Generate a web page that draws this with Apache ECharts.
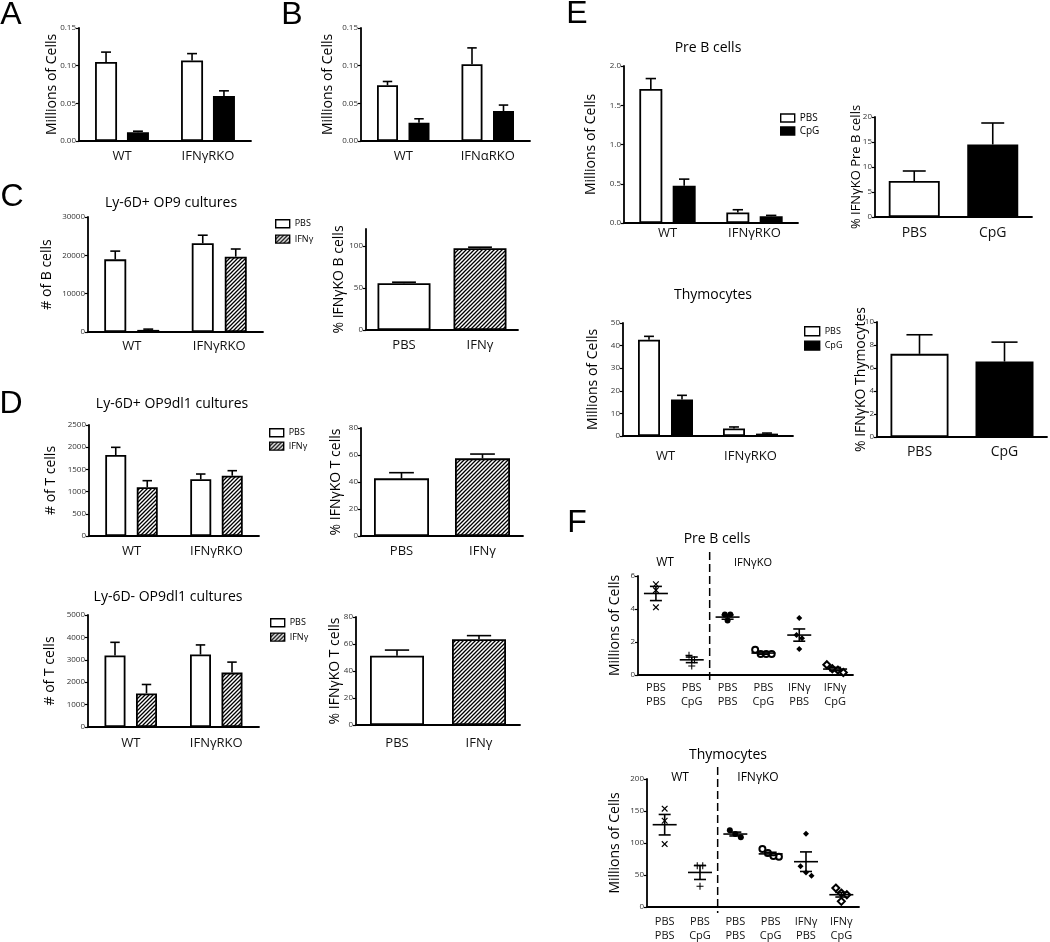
<!DOCTYPE html>
<html><head><meta charset="utf-8">
<script src="https://cdn.jsdelivr.net/npm/echarts@6/dist/echarts.min.js"></script>
<style>html,body{margin:0;padding:0;background:#fff}#c{width:1050px;height:942px}</style>
</head><body><div id="c"></div>
<script>
// ---------------- DATA ----------------
const catsA = ['WT', 'IFNγRKO'];
const aPBS = [0.105, 0.107], aPBSErr = [0.118, 0.116];
const aCpG = [0.0115, 0.0596], aCpGErr = [0.013, 0.0666];

const catsB = ['WT', 'IFNαRKO'];
const bPBS = [0.074, 0.102], bPBSErr = [0.079, 0.1236];
const bCpG = [0.0243, 0.0397], bCpGErr = [0.0295, 0.0477];

const catsKO = ['WT', 'IFNγRKO'];
const treatIFN = ['PBS', 'IFNγ'];
const treatCpG = ['PBS', 'CpG'];

const cPBS = [18950, 23150], cPBSErr = [21100, 25250];
const cIFN = [550, 19650], cIFNErr = [750, 21650];
const cPct = [55.6, 97.2], cPctErr = [56.8, 98.4];

const d1PBS = [1824, 1277], d1PBSErr = [1997, 1396];
const d1IFN = [1097, 1358], d1IFNErr = [1246, 1471];
const d1Pct = [42.7, 57.5], d1PctErr = [46.9, 60.7];

const d2PBS = [3192, 3236], d2PBSErr = [3780, 3664];
const d2IFN = [1500, 2428], d2IFNErr = [1898, 2897];
const d2Pct = [51.3, 63.5], d2PctErr = [55.5, 66.2];

const e1PBS = [1.707, 0.135], e1PBSErr = [1.84, 0.169];
const e1CpG = [0.474, 0.085], e1CpGErr = [0.559, 0.097];
const e1Pct = [7.2, 14.5], e1PctErr = [9.2, 18.8];

const e2PBS = [42.6, 3.3], e2PBSErr = [44.1, 4.0];
const e2CpG = [16.2, 1.05], e2CpGErr = [18.0, 1.3];
const e2Pct = [7.23, 6.56], e2PctErr = [8.89, 8.25];

const fCats = ['PBS\nPBS', 'PBS\nCpG', 'PBS\nPBS', 'PBS\nCpG', 'IFNγ\nPBS', 'IFNγ\nCpG'];
const f1Points = [[5.5, 5.14, 4.1], [1.19, 0.93, 0.54], [3.67, 3.67, 3.3], [1.53, 1.27, 1.27, 1.27], [3.45, 2.42, 2.23, 1.57], [0.62, 0.38, 0.3, 0.15]];
const f1Mean = [4.94, 0.92, 3.51, 1.33, 2.42, 0.36];
const f1Sem = [0.43, 0.17, 0.13, 0.07, 0.37, 0.1];
const f2Points = [[153.6, 134.8, 98.3], [64.5, 64.5, 32.3], [119.8, 108.8, 114], [90.6, 84.3, 78.5, 79.5], [114.5, 63.5, 54, 48.9], [29.6, 21.8, 19.2, 8.8]];
const f2Mean = [128.6, 54, 114, 83, 70.8, 19.2];
const f2Sem = [16, 11, 3, 2.5, 15.3, 3.6];

// ---------------- STYLE ----------------
const FONT = 'Open Sans';
const WHITE = '#ffffff', BLACK = '#000000';
const AXW = 1.8;
const HATCH = (function () {
  const c = document.createElement('canvas'); c.width = 4; c.height = 4;
  const g = c.getContext('2d');
  g.fillStyle = '#fff'; g.fillRect(0, 0, 4, 4);
  g.strokeStyle = '#000'; g.lineWidth = 1.3; g.lineCap = 'square';
  g.beginPath();
  g.moveTo(-1, 5); g.lineTo(5, -1);
  g.moveTo(-1, 1); g.lineTo(1, -1);
  g.moveTo(3, 5); g.lineTo(5, 3);
  g.stroke();
  return { image: c, repeat: 'repeat' };
})();

const option = { animation: false, grid: [], xAxis: [], yAxis: [], series: [], legend: [], graphic: [] };
const LS = { stroke: '#000', lineWidth: 1.6 };

function panel(g, cats, x, y) {
  const gi = option.grid.length;
  option.grid.push({ left: g[0], top: g[1], width: g[2], height: g[3], containLabel: false, outerBoundsMode: 'none' });
  option.xAxis.push({
    type: 'category', gridIndex: gi, data: cats, boundaryGap: true,
    axisLine: { lineStyle: { color: '#000', width: AXW } },
    axisTick: { alignWithLabel: true, length: 4, lineStyle: { color: '#000', width: 1.5 } },
    axisLabel: { interval: 0, color: '#111', fontFamily: FONT, fontSize: x.fontSize || 13, margin: x.margin, lineHeight: x.lineHeight || undefined }
  });
  const yAx = {
    type: 'value', gridIndex: gi, min: 0, max: y.max, interval: y.interval,
    splitLine: { show: false },
    axisLine: { show: true, lineStyle: { color: '#000', width: AXW } },
    axisTick: { show: true, length: 3, lineStyle: { color: '#000', width: 1.2 } },
    axisLabel: { color: '#333', fontFamily: FONT, fontSize: 8, margin: 3, formatter: y.fmt || (v => String(v)) },
    name: y.name, nameLocation: 'middle', nameGap: y.gap, nameMoveOverlap: false,
    nameTextStyle: { color: '#000', fontFamily: FONT, fontSize: y.nameSize || 14 }
  };
  if (y.custom) { yAx.axisLabel.customValues = y.custom; yAx.axisTick.customValues = y.custom; }
  option.yAxis.push(yAx);
  return gi;
}

function errRender(offset, capW) {
  return function (params, api) {
    const c = api.coord([api.value(0), api.value(1)]);
    const t = api.coord([api.value(0), api.value(2)]);
    const x = c[0] + offset;
    return { type: 'group', children: [
      { type: 'line', shape: { x1: x, y1: c[1], x2: x, y2: t[1] }, style: LS },
      { type: 'line', shape: { x1: x - capW / 2, y1: t[1], x2: x + capW / 2, y2: t[1] }, style: LS }
    ] };
  };
}

function bars(gi, list, w, gapPct) {
  const n = list.length;
  list.forEach((s, k) => {
    option.series.push({
      type: 'bar', name: s.name, xAxisIndex: gi, yAxisIndex: gi, barWidth: w, barGap: gapPct + '%', silent: true,
      itemStyle: { color: s.fill || (s.fills && s.fills[0]), borderColor: '#000', borderWidth: 1.8 },
      data: s.vals.map((v, i) => ({ value: v, itemStyle: { color: s.fills ? s.fills[i] : s.fill } }))
    });
    const off = n === 1 ? 0 : (k - (n - 1) / 2) * w * (1 + gapPct / 100);
    option.series.push({
      type: 'custom', xAxisIndex: gi, yAxisIndex: gi, silent: true, z: 3,
      renderItem: errRender(off, w * 0.45),
      data: s.vals.map((v, i) => [i, v, s.errs[i]])
    });
  });
}

function swarm(vals, thr, step) {
  const n = vals.length;
  const idx = vals.map((v, i) => i).sort((a, b) => vals[b] - vals[a]);
  const cl = new Array(n).fill(0);
  let cur = 0;
  for (let k = 1; k < n; k++) { if (vals[idx[k - 1]] - vals[idx[k]] >= thr) cur++; cl[idx[k]] = cur; }
  const offs = new Array(n).fill(0);
  for (let c = 0; c <= cur; c++) {
    const mem = idx.filter(i => cl[i] === c);
    mem.forEach((i, j) => { offs[i] = (j - (mem.length - 1) / 2) * step; });
  }
  return offs;
}

const PLUS = 'path://M4.25,0h1.5v4.25h4.25v1.5h-4.25v4.25h-1.5v-4.25h-4.25v-1.5h4.25z';
const fSymbols = [
  { symbol: PLUS, size: 8, rotate: 45, border: 0 },
  { symbol: PLUS, size: 7, rotate: 0, border: 0 },
  { symbol: 'circle', size: 6, rotate: 0, border: 0 },
  { symbol: 'emptyCircle', size: 6, rotate: 0, border: 1.3 },
  { symbol: 'diamond', size: 6, rotate: 0, border: 0 },
  { symbol: 'emptyDiamond', size: 7, rotate: 0, border: 1.3 }
];

function meanRender(params, api) {
  const m = api.coord([api.value(0), api.value(1)]);
  const lo = api.coord([api.value(0), api.value(2)]);
  const hi = api.coord([api.value(0), api.value(3)]);
  const mw = 12, cw = 6, x = m[0];
  return { type: 'group', children: [
    { type: 'line', shape: { x1: x - mw, y1: m[1], x2: x + mw, y2: m[1] }, style: LS },
    { type: 'line', shape: { x1: x, y1: lo[1], x2: x, y2: hi[1] }, style: LS },
    { type: 'line', shape: { x1: x - cw, y1: lo[1], x2: x + cw, y2: lo[1] }, style: LS },
    { type: 'line', shape: { x1: x - cw, y1: hi[1], x2: x + cw, y2: hi[1] }, style: LS }
  ] };
}

function dots(gi, pts, means, sems, ymax) {
  pts.forEach((arr, c) => {
    const s = fSymbols[c];
    const offs = swarm(arr, ymax * 0.05, 5.5);
    option.series.push({
      type: 'scatter', xAxisIndex: gi, yAxisIndex: gi, silent: true, z: 4,
      symbol: s.symbol, symbolSize: s.size, symbolRotate: s.rotate,
      itemStyle: { color: BLACK, borderWidth: s.border, borderColor: BLACK, opacity: 1 },
      data: arr.map((v, j) => ({ value: [c, v], symbolOffset: [offs[j], 0] }))
    });
  });
  option.series.push({
    type: 'custom', xAxisIndex: gi, yAxisIndex: gi, silent: true, z: 5, renderItem: meanRender,
    data: means.map((m, c) => [c, m, m - sems[c], m + sems[c]])
  });
}

function legend(names, left, top, iw, ih, gap, fs) {
  option.legend.push({
    data: names, orient: 'vertical', left: left, top: top, padding: 0,
    itemWidth: iw, itemHeight: ih, itemGap: gap, selectedMode: false, icon: 'rect',
    itemStyle: { borderColor: '#000', borderWidth: 1.4 },
    textStyle: { fontFamily: FONT, fontSize: fs, color: '#000' }
  });
}

function text(str, x, y, fs, family) {
  option.graphic.push({
    type: 'text', x: x, y: y, silent: true,
    style: { text: str, fontSize: fs, fontFamily: family || FONT, fill: '#000', align: 'center', verticalAlign: 'middle' }
  });
}

// ---------------- PANELS ----------------
const f2d = v => v.toFixed(2), f1d = v => v.toFixed(1);

// A
let gi = panel([79, 28, 172, 113], catsA, { margin: 9 }, { max: 0.15, interval: 0.05, fmt: f2d, name: 'Millions of Cells', gap: 20 });
bars(gi, [{ name: 'PBS', vals: aPBS, errs: aPBSErr, fill: WHITE }, { name: 'CpG', vals: aCpG, errs: aCpGErr, fill: BLACK }], 22, 45);
// B
gi = panel([361, 28, 169, 113], catsB, { margin: 9 }, { max: 0.15, interval: 0.05, fmt: f2d, name: 'Millions of Cells', gap: 26 });
bars(gi, [{ name: 'PBS', vals: bPBS, errs: bPBSErr, fill: WHITE }, { name: 'CpG', vals: bCpG, errs: bCpGErr, fill: BLACK }], 21, 50);
// C left
gi = panel([88, 217, 175, 115], catsKO, { margin: 8 }, { max: 30000, interval: 10000, name: '# of B cells', gap: 34 });
bars(gi, [{ name: 'PBS', vals: cPBS, errs: cPBSErr, fill: WHITE }, { name: 'IFNγ', vals: cIFN, errs: cIFNErr, fill: HATCH }], 22, 50);
legend(['PBS', 'IFNγ'], 275, 219, 14, 8, 6, 9);
// C right
gi = panel([366, 229, 152, 101], treatIFN, { margin: 9 }, { max: 120, interval: 50, custom: [0, 50, 100], name: '% IFNγKO B cells', gap: 20 });
bars(gi, [{ name: 'pctC', vals: cPct, errs: cPctErr, fills: [WHITE, HATCH] }], 53, 0);
// D top left
gi = panel([89, 425, 170, 111], catsKO, { margin: 9 }, { max: 2500, interval: 500, name: '# of T cells', gap: 31 });
bars(gi, [{ name: 'PBS', vals: d1PBS, errs: d1PBSErr, fill: WHITE }, { name: 'IFNγ', vals: d1IFN, errs: d1IFNErr, fill: HATCH }], 21, 50);
legend(['PBS', 'IFNγ'], 269, 428, 14, 8, 4, 9);
// D top right
gi = panel([361, 428, 162, 108], treatIFN, { margin: 9 }, { max: 80, interval: 20, name: '% IFNγKO T cells', gap: 18 });
bars(gi, [{ name: 'pctD1', vals: d1Pct, errs: d1PctErr, fills: [WHITE, HATCH] }], 55, 0);
// D bottom left
gi = panel([88, 615, 171, 112], catsKO, { margin: 10 }, { max: 5000, interval: 1000, name: '# of T cells', gap: 31 });
bars(gi, [{ name: 'PBS', vals: d2PBS, errs: d2PBSErr, fill: WHITE }, { name: 'IFNγ', vals: d2IFN, errs: d2IFNErr, fill: HATCH }], 21, 50);
legend(['PBS', 'IFNγ'], 270, 618, 14, 8, 5, 9);
// D bottom right
gi = panel([356, 617, 164, 108], treatIFN, { margin: 12 }, { max: 80, interval: 20, name: '% IFNγKO T cells', gap: 14 });
bars(gi, [{ name: 'pctD2', vals: d2Pct, errs: d2PctErr, fills: [WHITE, HATCH] }], 54, 0);
// E top left
gi = panel([624, 66, 174, 157], catsKO, { margin: 4 }, { max: 2, interval: 0.5, fmt: f1d, name: 'Millions of Cells', gap: 26 });
bars(gi, [{ name: 'PBS', vals: e1PBS, errs: e1PBSErr, fill: WHITE }, { name: 'CpG', vals: e1CpG, errs: e1CpGErr, fill: BLACK }], 23, 45);
legend(['PBS', 'CpG'], 780, 113, 14, 8, 3, 10);
// E top right
gi = panel([875, 117, 157, 100], treatCpG, { margin: 9, fontSize: 14 }, { max: 20, interval: 5, name: '% IFNγKO Pre B cells', gap: 12, nameSize: 13 });
bars(gi, [{ name: 'pctE1', vals: e1Pct, errs: e1PctErr, fills: [WHITE, BLACK] }], 51, 0);
// E bottom left
gi = panel([623, 323, 170, 113], catsKO, { margin: 14 }, { max: 50, interval: 10, name: 'Millions of Cells', gap: 23 });
bars(gi, [{ name: 'PBS', vals: e2PBS, errs: e2PBSErr, fill: WHITE }, { name: 'CpG', vals: e2CpG, errs: e2CpGErr, fill: BLACK }], 22, 50);
legend(['PBS', 'CpG'], 804, 326, 15, 9, 4, 9);
// E bottom right
gi = panel([877, 322, 170, 115], treatCpG, { margin: 8, fontSize: 14 }, { max: 10, interval: 2, name: '% IFNγKO Thymocytes', gap: 9 });
bars(gi, [{ name: 'pctE2', vals: e2Pct, errs: e2PctErr, fills: [WHITE, BLACK] }], 58, 0);
// F top
const F1 = [638, 576, 215, 99];
gi = panel(F1, fCats, { margin: 6, fontSize: 11, lineHeight: 14 }, { max: 6, interval: 2, name: 'Millions of Cells', gap: 16 });
dots(gi, f1Points, f1Mean, f1Sem, 6);
// F bottom
const F2 = [647, 779, 212, 128];
gi = panel(F2, fCats, { margin: 8, fontSize: 11, lineHeight: 14 }, { max: 200, interval: 50, name: 'Millions of Cells', gap: 25 });
dots(gi, f2Points, f2Mean, f2Sem, 200);

// dashed separators between WT and IFNγKO groups
[[F1, 552, 683], [F2, 767, 913]].forEach(([g, y1, y2]) => {
  const x = g[0] + g[2] * 2 / 6;
  option.graphic.push({ type: 'line', silent: true, shape: { x1: x, y1: y1, x2: x, y2: y2 }, style: { stroke: '#000', lineWidth: 1.5, lineDash: [8, 4] } });
});

// ---------------- TEXT ----------------
text('A', 11, 15, 32, 'Liberation Sans');
text('B', 292, 15, 32, 'Liberation Sans');
text('C', 12, 197, 32, 'Liberation Sans');
text('D', 11, 404, 32, 'Liberation Sans');
text('E', 577, 14, 32, 'Liberation Sans');
text('F', 577, 523, 32, 'Liberation Sans');
text('Ly-6D+ OP9 cultures', 171, 203, 14);
text('Ly-6D+ OP9dl1 cultures', 172, 404, 14);
text('Ly-6D- OP9dl1 cultures', 168, 597, 14);
text('Pre B cells', 708, 48, 14);
text('Thymocytes', 713, 295, 14);
text('Pre B cells', 717, 539, 14);
text('Thymocytes', 728, 755, 14);
text('WT', 665, 563, 12);
text('IFNγKO', 753, 563, 11);
text('WT', 680, 778, 12);
text('IFNγKO', 758, 778, 12);

const chart = echarts.init(document.getElementById('c'), null, { renderer: 'canvas' });
chart.setOption(option);
</script>
</body></html>
